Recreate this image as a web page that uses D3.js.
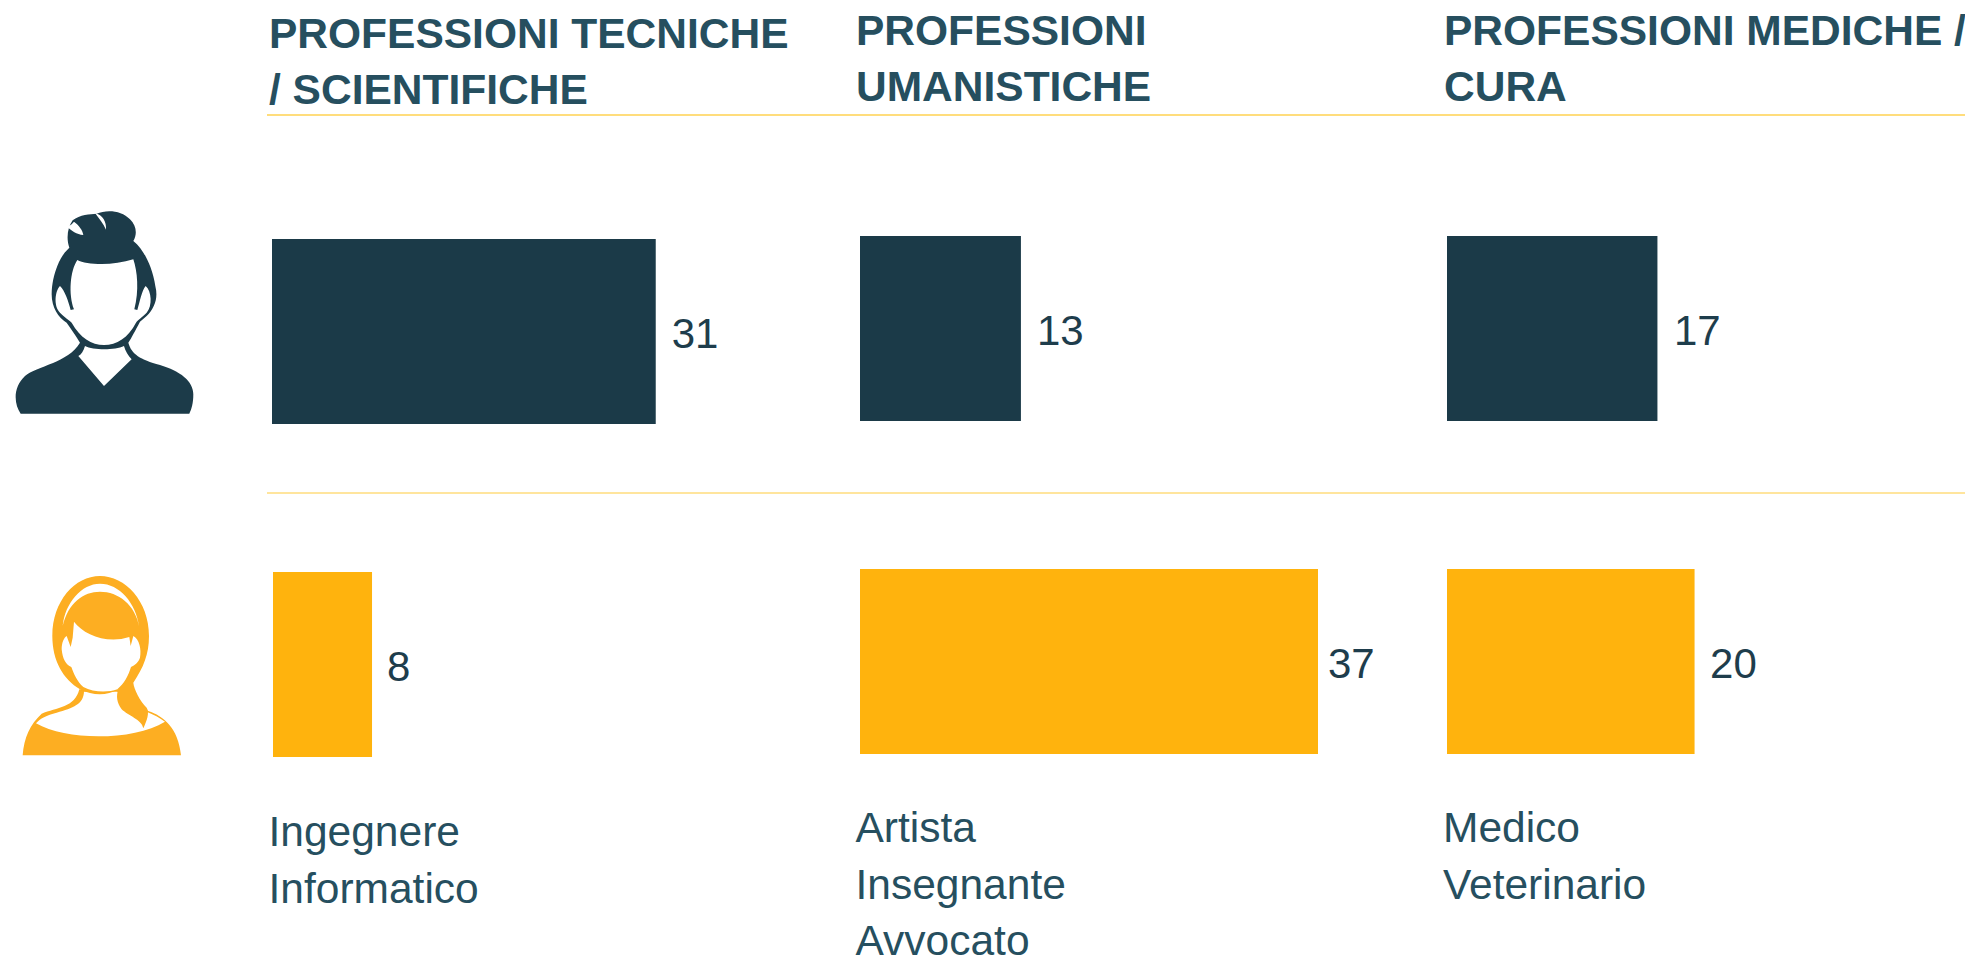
<!DOCTYPE html>
<html lang="it">
<head>
<meta charset="utf-8">
<title>Professioni</title>
<script src="https://cdn.jsdelivr.net/npm/d3@7/dist/d3.min.js"></script>
<style>
html,body{margin:0;padding:0;background:#fff;overflow:hidden}
svg{display:block;font-family:"Liberation Sans",Arial,sans-serif}
</style>
</head>
<body>
<div id="chart"></div>
<script>
// ---- data ----
const categories = ["PROFESSIONI TECNICHE / SCIENTIFICHE", "PROFESSIONI UMANISTICHE", "PROFESSIONI MEDICHE / CURA"];
const headingLines = [["PROFESSIONI TECNICHE", "/ SCIENTIFICHE"], ["PROFESSIONI", "UMANISTICHE"], ["PROFESSIONI MEDICHE /", "CURA"]];
const genders = ["Uomini", "Donne"];
const maleValues = [31, 13, 17];
const femaleValues = [8, 37, 20];
const occupations = [["Ingegnere", "Informatico"], ["Artista", "Insegnante", "Avvocato"], ["Medico", "Veterinario"]];

// ---- layout ----
const W = 1965, H = 957;
const barLeft = [[272, 273], [860, 860], [1447, 1447]];
const barTop = [239, 236, 236];
const headX = [269, 856, 1444];
const headBase = [48, 45, 45];
const occX = [268.5, 855.5, 1443];
const occBase = [846, 842, 842];
const valueGap = [[16, 15], [16, 10], [16.5, 15.5]];
const barH = 185, rowStep = 333;
const C = {male: "#1b3a48", female: "#ffb30d", head: "#264f5f", value: "#1e3d4c", line: "#ffdd7c", iconF: "#fdae20"};

const svg = d3.select("#chart").append("svg").attr("width", W).attr("height", H).attr("viewBox", `0 0 ${W} ${H}`);
svg.append("defs").append("filter").attr("id", "soft").append("feGaussianBlur").attr("stdDeviation", 1.2);

const x = d3.scaleLinear().domain([0, 37]).range([0, 458]);
const rowY = d3.scalePoint().domain(genders).range([0, rowStep]);
const series = {Uomini: maleValues, Donne: femaleValues};
const fills = {Uomini: C.male, Donne: C.female};

// rules
svg.selectAll("line.rule").data([{y: 115, w: 2}, {y: 493, w: 1.4}]).join("line")
  .attr("class", "rule").attr("x1", 267).attr("x2", W)
  .attr("y1", d => d.y).attr("y2", d => d.y)
  .attr("stroke", C.line).attr("stroke-width", d => d.w);

// panels
const panel = svg.selectAll("g.panel").data(categories).join("g").attr("class", "panel");

panel.each(function (cat, i) {
  const g = d3.select(this);
  g.append("text").attr("font-size", 42.5).attr("font-weight", 700).attr("fill", C.head)
    .selectAll("tspan").data(headingLines[i]).join("tspan")
    .attr("x", headX[i]).attr("y", (d, k) => headBase[i] + k * 56).text(d => d);

  genders.forEach((gn, r) => {
    const v = series[gn][i];
    const y0 = barTop[i] + rowY(gn);
    g.append("rect").attr("x", barLeft[i][r]).attr("y", y0)
      .attr("width", x(v)).attr("height", barH).attr("fill", fills[gn]);
    g.append("text").attr("x", barLeft[i][r] + x(v) + valueGap[i][r]).attr("y", y0 + 108.5)
      .attr("font-size", 42).attr("fill", C.value).text(v);
  });

  g.append("text").attr("font-size", 42.5).attr("fill", C.head)
    .selectAll("tspan").data(occupations[i]).join("tspan")
    .attr("x", occX[i]).attr("y", (d, k) => occBase[i] + k * 56.5).text(d => d);
});

// icons (paths in 3x crop units)
const man = svg.append("g").attr("transform", "translate(0,191) scale(0.3333)").attr("filter", "url(#soft)");
man.append("path").attr("fill", C.male).attr("d",
  "M62,668 C42,640 38,590 75,555 C110,525 205,515 240,455 C225,430 210,410 200,395 C175,380 155,350 155,310 C155,280 162,250 172,225 C182,200 192,185 208,170 C198,140 203,110 218,88 C240,70 270,70 290,68 C320,55 365,58 390,85 C410,105 412,130 400,150 C432,175 458,230 466,285 C475,320 465,350 440,375 L420,392 C405,420 395,440 385,455 C395,490 420,505 480,522 C540,540 580,570 580,610 C580,635 575,655 568,668 Z");
man.append("path").attr("fill", "#fff").attr("d",
  "M232,207 C260,222 340,225 400,205 C412,240 418,300 403,355 L412,357 C420,330 425,300 437,285 C455,300 458,345 440,365 C425,380 415,385 408,395 C385,440 350,462 312,462 C275,462 240,440 215,395 C205,385 195,380 180,365 C160,345 165,300 180,285 C195,300 205,330 212,357 L222,355 C205,310 210,240 232,207 Z");
man.append("path").attr("fill", "#fff").attr("d",
  "M255,465 C280,478 345,478 372,465 C376,480 385,495 395,505 L312,585 L235,495 C245,490 250,480 255,465 Z");
man.append("path").attr("fill", "#fff").attr("d",
  "M222,92 C238,104 248,118 250,132 C230,130 214,120 203,108 L215,100 Z M285,66 C308,72 320,92 318,116 C310,98 298,84 285,66 Z");

const woman = svg.append("g").attr("transform", "translate(0,561) scale(0.3333)").attr("filter", "url(#soft)").attr("fill", C.iconF);
woman.append("path").attr("d",
  "M68,583 C72,530 90,490 125,458 C170,440 225,440 238,385 L355,385 L445,450 C490,465 535,500 543,583 Z");
woman.append("path").attr("fill", "#fff").attr("d",
  "M252,392 C250,430 220,440 170,455 C140,463 120,472 108,487 C200,540 400,540 495,482 C480,470 460,460 440,452 L352,392 Z");
woman.append("path").attr("d",
  "M240,385 C190,355 157,300 157,225 C157,120 225,45 300,45 C375,45 447,120 447,225 C447,280 430,320 400,365 C402,385 420,420 440,440 C450,455 440,480 430,502 C425,475 385,465 365,445 C350,425 348,405 355,385 C320,405 280,405 240,385 Z");
woman.append("path").attr("fill", "#fff").attr("d",
  "M188,195 C195,125 245,68 300,68 C358,68 408,125 418,198 C405,130 355,92 300,92 C250,92 205,125 188,195 Z");
woman.append("path").attr("fill", "#fff").attr("d",
  "M222,182 C250,220 320,250 388,228 L392,255 L400,225 C418,235 425,265 420,290 C415,305 405,312 393,318 C385,345 372,368 352,385 C325,395 280,395 250,378 C232,362 222,340 214,318 C198,312 188,295 185,265 C185,245 192,230 200,225 L212,258 L218,230 Z");
</script>
</body>
</html>
